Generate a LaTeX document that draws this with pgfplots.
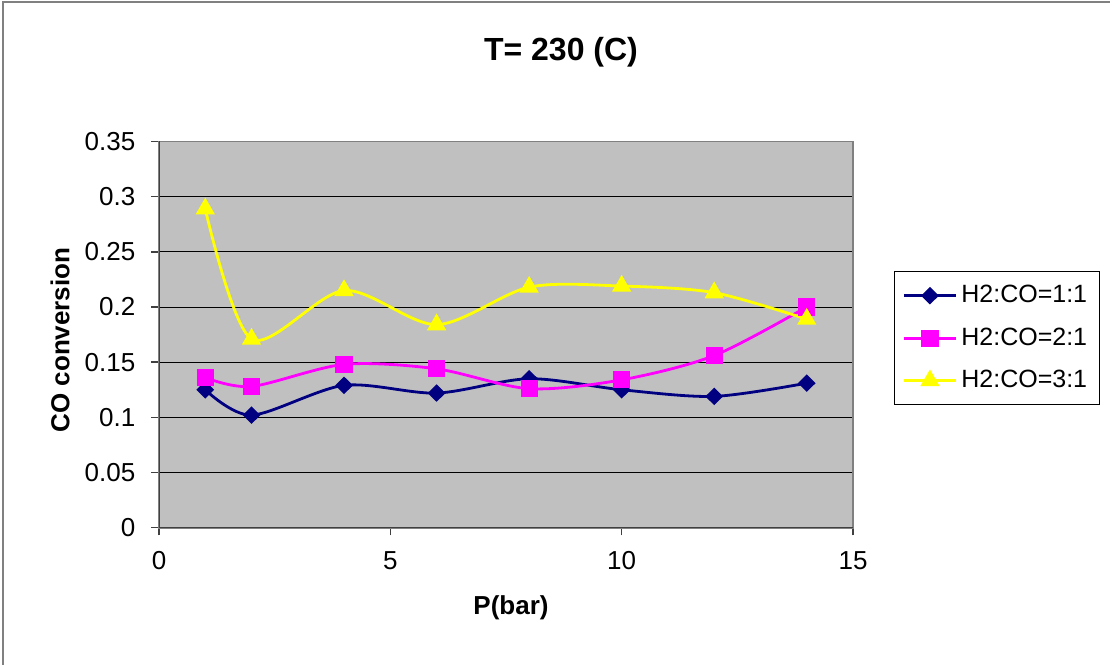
\documentclass[border=0pt]{standalone}
\usepackage{pgfplots}
\pgfplotsset{compat=1.18}
\usepackage{fontspec}
\setmainfont{Liberation Sans}
\definecolor{plotbg}{HTML}{C0C0C0}
\definecolor{navyline}{HTML}{000080}
\definecolor{magline}{HTML}{FF00FF}
\definecolor{yelline}{HTML}{FFFF00}
\definecolor{frame}{HTML}{808080}
\definecolor{darkaxis}{HTML}{404040}
\begin{document}
\begin{tikzpicture}[x=1pt,y=1pt]
\useasboundingbox (0,0) rectangle (556,332);
\draw[frame, line width=0.8pt] (1.5,-2) -- (1.5,331) -- (555,331);
\node[font=\bfseries\fontsize{16}{19}\selectfont] at (280.5,306) {T= 230 (C)};
\node[font=\bfseries\fontsize{13}{15}\selectfont, rotate=90] at (30,162) {CO conversion};
\node[font=\bfseries\fontsize{13}{15}\selectfont] at (255.5,28) {P(bar)};
\begin{axis}[
  at={(79.5pt,68.15pt)}, anchor=south west,
  scale only axis, width=347pt, height=193.1pt,
  xmin=0, xmax=15, ymin=0, ymax=0.35,
  xtick={0,5,10,15}, ytick={0,0.05,...,0.35},
  axis background/.style={fill=plotbg},
  axis line style={draw=frame, line width=0.9pt},
  tick align=outside, major tick length=3.8pt,
  tick style={draw=darkaxis, line width=0.7pt},
  ymajorgrids, grid style={black, line width=0.5pt},
  xtick pos=bottom, ytick pos=left,
  ticklabel style={font=\fontsize{13}{15}\selectfont},
  xticklabel style={yshift=-4.5pt},
  yticklabel style={xshift=-4.5pt, /pgf/number format/fixed, /pgf/number format/precision=2},
  /pgf/number format/assume math mode=true,
  legend style={at={(1.059,0.665)}, anchor=north west, draw=black,
    line width=0.6pt, font=\fontsize{12.5}{15}\selectfont,
    inner xsep=4pt, inner ysep=5pt, row sep=7pt, cells={anchor=west}},
  legend cell align=left,
  legend image code/.code={
    \draw[mark repeat=2, mark phase=2, #1] plot coordinates {(0pt,0pt) (13pt,0pt) (26pt,0pt)};
  },
  every axis plot/.append style={line width=1.4pt, smooth, tension=0.5},
]
% darker left and bottom axis lines, as drawn in the source chart
\draw[darkaxis, line width=1pt] (rel axis cs:0,1) -- (rel axis cs:0,0) -- (rel axis cs:1,0);
\addplot[color=navyline, mark=diamond*, mark size=3.4pt,
  mark options={solid, xscale=1.35, fill=navyline}] coordinates {
  (1,0.125) (2,0.102) (4,0.129) (6,0.122) (8,0.135) (10,0.125) (12,0.119) (14,0.131)};
\addlegendentry{H2:CO=1:1}
\addplot[color=magline, mark=square*, mark size=3.6pt,
  mark options={solid, fill=magline}] coordinates {
  (1,0.136) (2,0.128) (4,0.148) (6,0.144) (8,0.126) (10,0.134) (12,0.156) (14,0.200)};
\addlegendentry{H2:CO=2:1}
\addplot[color=yelline, mark=triangle*, mark size=4.2pt,
  mark options={solid, fill=yelline}] coordinates {
  (1,0.289) (2,0.171) (4,0.215) (6,0.184) (8,0.218) (10,0.219) (12,0.213) (14,0.189)};
\addlegendentry{H2:CO=3:1}
\end{axis}
\end{tikzpicture}
\end{document}
